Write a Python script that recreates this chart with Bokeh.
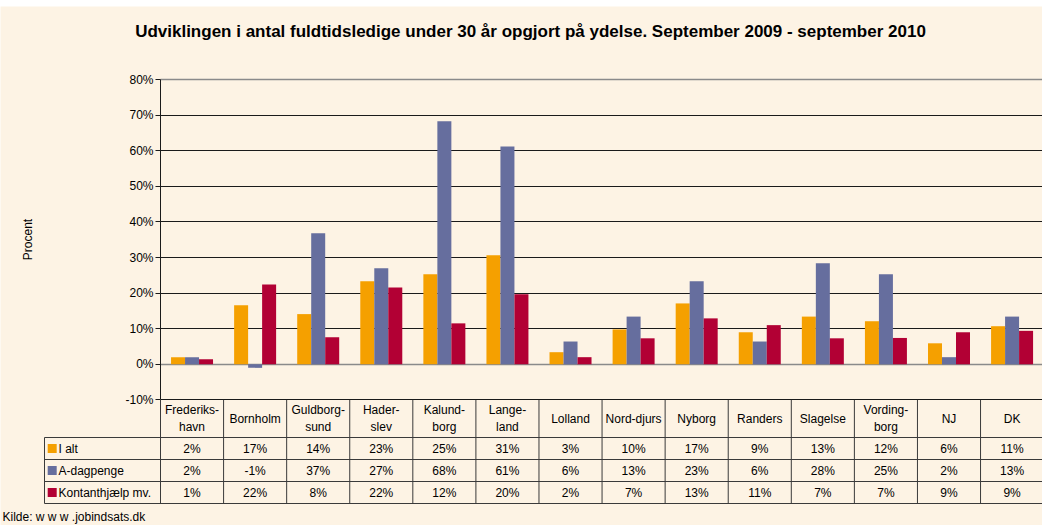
from bokeh.plotting import figure
from bokeh.models import Range1d, FixedTicker, Grid, PrintfTickFormatter
from bokeh.core.properties import value
from bokeh.embed import file_html
from bokeh.resources import INLINE

# ---------------- data ----------------
categories = ["Frederiks-\nhavn", "Bornholm", "Guldborg-\nsund", "Hader-\nslev", "Kalund-\nborg",
              "Lange-\nland", "Lolland", "Nord-djurs", "Nyborg", "Randers", "Slagelse",
              "Vording-\nborg", "NJ", "DK"]
series_names = ["I alt", "A-dagpenge", "Kontanthjælp mv."]
i_alt = [2.0, 16.6, 14.1, 23.3, 25.3, 30.6, 3.4, 9.8, 17.1, 9.0, 13.4, 12.1, 5.9, 10.7]
a_dagpenge = [2.0, -1.0, 36.8, 27.0, 68.3, 61.2, 6.4, 13.4, 23.3, 6.4, 28.4, 25.3, 2.0, 13.4]
kontanthjaelp = [1.4, 22.4, 7.6, 21.6, 11.5, 19.7, 2.0, 7.3, 12.9, 11.0, 7.3, 7.4, 9.0, 9.4]
y_ticks = [-10, 0, 10, 20, 30, 40, 50, 60, 70, 80]
title_text = "Udviklingen i antal fuldtidsledige under 30 år opgjort på ydelse. September 2009 - september 2010"
source_text = "Kilde: w w w .jobindsats.dk"

series = [i_alt, a_dagpenge, kontanthjaelp]
colors = ["#F5A000", "#666E9E", "#B20034"]

# ---------------- layout constants (pixels, page coords) ----------------
BG = "#FDF3E4"
FONT = "Liberation Sans"
W, H = 1042, 525
FRAME_TOP = 6
AXIS_X = 160          # y-axis position
TOP_Y = 79            # 80% line
N = len(categories)
col_px = 63.08
px_per_pct = 3.56
grid_color = "#1a1a1a"
tab_color = "#3a3a3a"
fs = "12px"


def px_to_x(fx):
    return (fx - AXIS_X) / col_px


def px_to_y(fy):
    return 80 - (fy - TOP_Y) / px_per_pct


x_end = px_to_x(W)
p = figure(width=W, height=H, x_range=Range1d(px_to_x(0), x_end),
           y_range=Range1d(px_to_y(H), px_to_y(FRAME_TOP)),
           output_backend="svg", toolbar_location=None,
           min_border_left=0, min_border_right=0, min_border_top=FRAME_TOP, min_border_bottom=0,
           background_fill_color=BG, border_fill_color="#FFFFFF", outline_line_color=None)

p.xaxis.visible = False
p.xgrid.visible = False

y_rows = [px_to_y(437), px_to_y(459), px_to_y(481), px_to_y(503)]
yax = p.yaxis[0]
yax.fixed_location = 0
yax.bounds = (min(y_ticks), max(y_ticks))
yax.ticker = FixedTicker(ticks=y_ticks)
yax.formatter = PrintfTickFormatter(format="%d%%")
yax.axis_line_color = grid_color
yax.major_tick_line_color = grid_color
yax.major_tick_out = 5
yax.major_tick_in = 0
yax.minor_tick_line_color = None
yax.major_label_text_font = FONT
yax.major_label_text_font_size = fs
yax.major_label_text_color = "#000000"
yax.major_label_standoff = 2
yax.axis_label = "Procent"
yax.axis_label_text_font = FONT
yax.axis_label_text_font_size = fs
yax.axis_label_text_font_style = "normal"
yax.axis_label_text_color = "#000000"
yax.axis_label_standoff = 87

inner_ticks = [t for t in y_ticks if t not in (0, 80)]
edge_ticks = [0, 80]
has_cross = "cross_bounds" in Grid.properties()
p.ygrid.ticker = FixedTicker(ticks=inner_ticks)
p.ygrid.grid_line_color = grid_color
g2 = Grid(dimension=1, ticker=FixedTicker(ticks=edge_ticks), grid_line_color="#8a8a8a",
          grid_line_width=1.5)
p.add_layout(g2)
if has_cross:
    p.ygrid.cross_bounds = (0, x_end)
    g2.cross_bounds = (0, x_end)
else:
    p.ygrid.visible = False
    g2.visible = False
    p.segment(x0=[0] * len(inner_ticks), x1=[x_end] * len(inner_ticks), y0=inner_ticks, y1=inner_ticks,
              line_color=grid_color, line_width=1)
    p.segment(x0=[0] * 2, x1=[x_end] * 2, y0=edge_ticks, y1=edge_ticks, line_color="#8a8a8a", line_width=1.5)

# title
p.text(x=[px_to_x(530)], y=[px_to_y(31)], text=[title_text], text_font=value(FONT),
       text_font_style="bold", text_font_size="17px", text_align="center",
       text_baseline="middle", text_color="#000000")

# bars
bw = 14 / col_px
offsets = [-bw, 0.0, bw]
for vals, col, off in zip(series, colors, offsets):
    xs = [i + 0.5 + off for i in range(N)]
    p.vbar(x=xs, top=vals, bottom=0, width=bw, fill_color=col, line_color=None)

# data table: header row
y_head_top = -10
header_y = (y_head_top + y_rows[0]) / 2
p.text(x=[i + 0.5 for i in range(N)], y=[header_y] * N, text=categories,
       text_font=value(FONT), text_font_size=fs, text_align="center",
       text_baseline="middle", text_line_height=1.22, text_color="#000000")
p.segment(x0=list(range(0, N)), x1=list(range(0, N)), y0=[y_rows[0]] * N, y1=[y_head_top] * N,
          line_color=tab_color, line_width=1)

# data table: body
x_left = px_to_x(44)
p.segment(x0=[x_left] * 4, x1=[x_end] * 4, y0=y_rows, y1=y_rows, line_color=tab_color, line_width=1)
vx = [x_left] + list(range(0, N))
p.segment(x0=vx, x1=vx, y0=[y_rows[-1]] * len(vx), y1=[y_rows[0]] * len(vx),
          line_color=tab_color, line_width=1)

for k, (vals, col, name) in enumerate(zip(series, colors, series_names)):
    yc = (y_rows[k] + y_rows[k + 1]) / 2
    p.scatter(x=[px_to_x(51.7)], y=[yc], marker="square", size=9, fill_color=col, line_color=None)
    p.text(x=[px_to_x(58)], y=[yc], text=[name], text_font=value(FONT), text_font_size=fs,
           text_align="left", text_baseline="middle", text_color="#000000")
    labels = [f"{round(v):d}%" for v in vals]
    p.text(x=[i + 0.5 for i in range(N)], y=[yc] * N, text=labels, text_font=value(FONT),
           text_font_size=fs, text_align="center", text_baseline="middle", text_color="#000000")

p.text(x=[px_to_x(2)], y=[px_to_y(516)], text=[source_text], text_font=value(FONT), text_font_size=fs,
       text_align="left", text_baseline="middle", text_color="#000000")

open("out.html", "w").write(file_html(p, INLINE))
